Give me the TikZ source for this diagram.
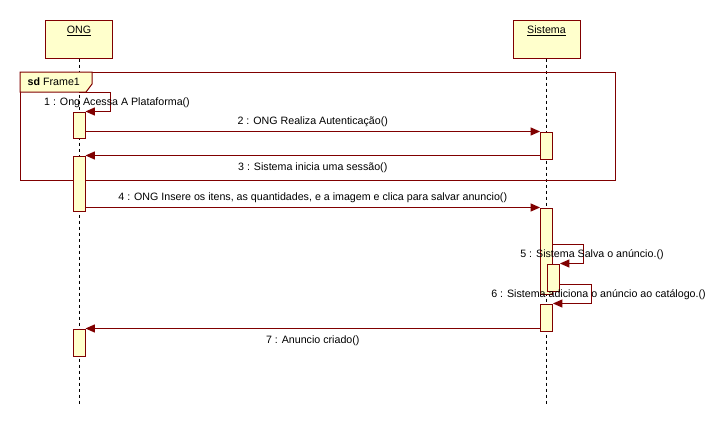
\documentclass[tikz,border=0pt]{standalone}
\usepackage{fontspec}
\setmainfont{Liberation Sans}
\usetikzlibrary{arrows.meta}
\definecolor{umlred}{RGB}{128,0,0}
\definecolor{umlfill}{RGB}{255,255,204}
\tikzset{>={Triangle[length=7pt,width=6pt]}}
\newcommand*{\msgfont}{\fontsize{8}{9.6}\selectfont}

\begin{document}
\begin{tikzpicture}[x=0.75pt, y=-0.75pt, font=\msgfont,
    actor/.style={draw=umlred, fill=umlfill, line width=.75pt, minimum width=50.25pt, minimum height=28.5pt},
    act/.style={draw=umlred, fill=umlfill, line width=.75pt, minimum width=9pt, inner sep=0pt},
    msg/.style={umlred, line width=.75pt, ->},
    lifeline/.style={black, line width=.6pt, dash pattern=on 2.25pt off 2.25pt}]
    \useasboundingbox (0,0) rectangle (726,426);
    \node[actor](ong) at (79,39) {};
    \node[actor](sis) at (546.5,39) {};
    \node(ongname) at (79,31) {\underline{ONG}};
    \node(sisname) at (546.5,31) {\underline{Sistema}};
    \coordinate(ongend) at (79,405);
    \coordinate(sisend) at (546.5,405);
    \draw[lifeline](ong) -- (ongend);
    \draw[lifeline](sis) -- (sisend);
    \draw[umlred, line width=.75pt](20,72) rectangle (615,180);
    \filldraw[draw=umlred, fill=umlfill, line width=.75pt](20,72) -- (92,72) -- (92,84) -- (86,92) -- (20,92) -- cycle;
    \node[anchor=west](sdtag) at (23,82) {\textbf{sd} Frame1};
    \node[act, minimum height=19.5pt](o1) at (79,125) {};
    \node[act, minimum height=20.25pt](s1) at (546.5,145.5) {};
    \node[act, minimum height=41.25pt](o2) at (79,183.5) {};
    \node[act, minimum height=64.5pt](s2) at (546.5,251) {};
    \node[act, minimum height=20.25pt](s3) at (553.5,277.5) {};
    \node[act, minimum height=20.25pt](s4) at (546.5,317.5) {};
    \node[act, minimum height=20.25pt](o3) at (79,342.5) {};
    \coordinate(m1) at (79,92);
    \draw[msg](m1) -- ++(31,0) |- (o1.north east);
    \node(l1) at (117,103) {1 : Ong Acessa A Plataforma()};
    \draw[msg](o1.east |- s1.north) -- node[above, black]{2 : ONG Realiza Autenticação()} (s1.north west);
    \draw[msg](s1.west |- o2.north) -- node[below, black, yshift=-2pt]{3 : Sistema inicia uma sessão()} (o2.north east);
    \draw[msg](o2.east |- s2.north) -- node[above, black]{4 : ONG Insere os itens, as quantidades, e a imagem e clica para salvar anuncio()} (s2.north west);
    \draw[msg](s2.east |- 0,244) -- ++(30.5,0) |- (s3.north east);
    \node(l5) at (592,255) {5 : Sistema Salva o anúncio.()};
    \draw[msg](s3.east |- 0,284) -- ++(31.5,0) |- (s4.north east);
    \node(l6) at (598.5,295) {6 : Sistema adiciona o anúncio ao catálogo.()};
    \draw[msg](s4.west |- o3.north) -- node[below, black, yshift=-2pt]{7 : Anuncio criado()} (o3.north east);
\end{tikzpicture}
\end{document}
